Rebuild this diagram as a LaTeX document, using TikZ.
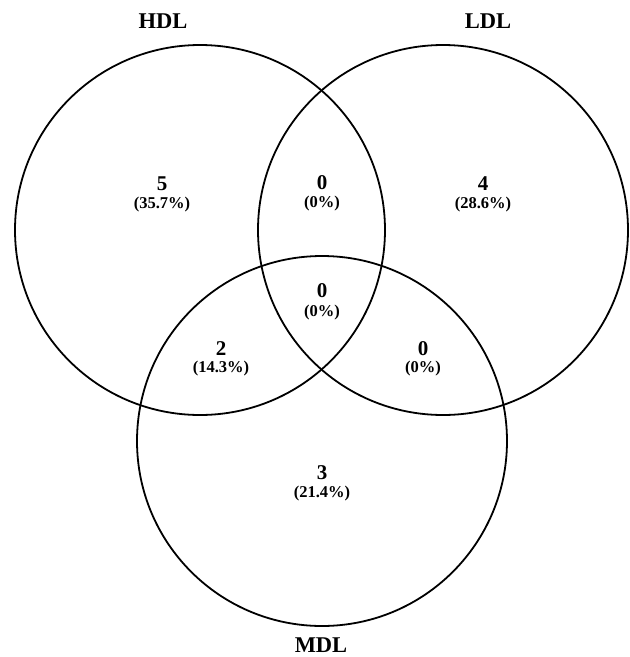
\documentclass[tikz,border=0pt]{standalone}
\usepackage{fontspec}
\setmainfont{Liberation Serif}
\begin{document}
\begin{tikzpicture}[x=1pt,y=-1pt,
  setcircle/.style={draw=black,line width=1.8pt},
  setlabel/.style={font=\fontsize{22.5}{24}\selectfont\bfseries,inner sep=0pt,anchor=base},
  countlabel/.style={font=\fontsize{21}{22}\selectfont\bfseries,inner sep=0pt,anchor=base},
  pctlabel/.style={font=\fontsize{16.5}{18}\selectfont\bfseries,inner sep=0pt,anchor=base}]
\useasboundingbox (0,0) rectangle (630,657);
\fill[white] (0,0) rectangle (630,657);
% circles
\draw[setcircle] (200,230) circle[radius=185] coordinate (hdlc);
\draw[setcircle] (443,230) circle[radius=185] coordinate (ldlc);
\draw[setcircle] (322,441) circle[radius=185] coordinate (mdlc);
% set labels
\node[setlabel] (hdl) at (163,28) {HDL};
\node[setlabel] (ldl) at (488,28) {LDL};
\node[setlabel] (mdl) at (321,652) {MDL};
% counts
\node[countlabel] (n5) at (162,190) {5};
\node[pctlabel] (p5) at (162,208.5) {(35.7\%)};
\node[countlabel] (n4) at (483,190) {4};
\node[pctlabel] (p4) at (483,208.5) {(28.6\%)};
\node[countlabel] (nhl) at (322,189) {0};
\node[pctlabel] (phl) at (322,207.5) {(0\%)};
\node[countlabel] (nall) at (322,297) {0};
\node[pctlabel] (pall) at (322,316.5) {(0\%)};
\node[countlabel] (n2) at (221,355) {2};
\node[pctlabel] (p2) at (221,372.5) {(14.3\%)};
\node[countlabel] (nlm) at (423,355) {0};
\node[pctlabel] (plm) at (423,372.5) {(0\%)};
\node[countlabel] (n3) at (322,479) {3};
\node[pctlabel] (p3) at (322,497.5) {(21.4\%)};
\end{tikzpicture}
\end{document}
